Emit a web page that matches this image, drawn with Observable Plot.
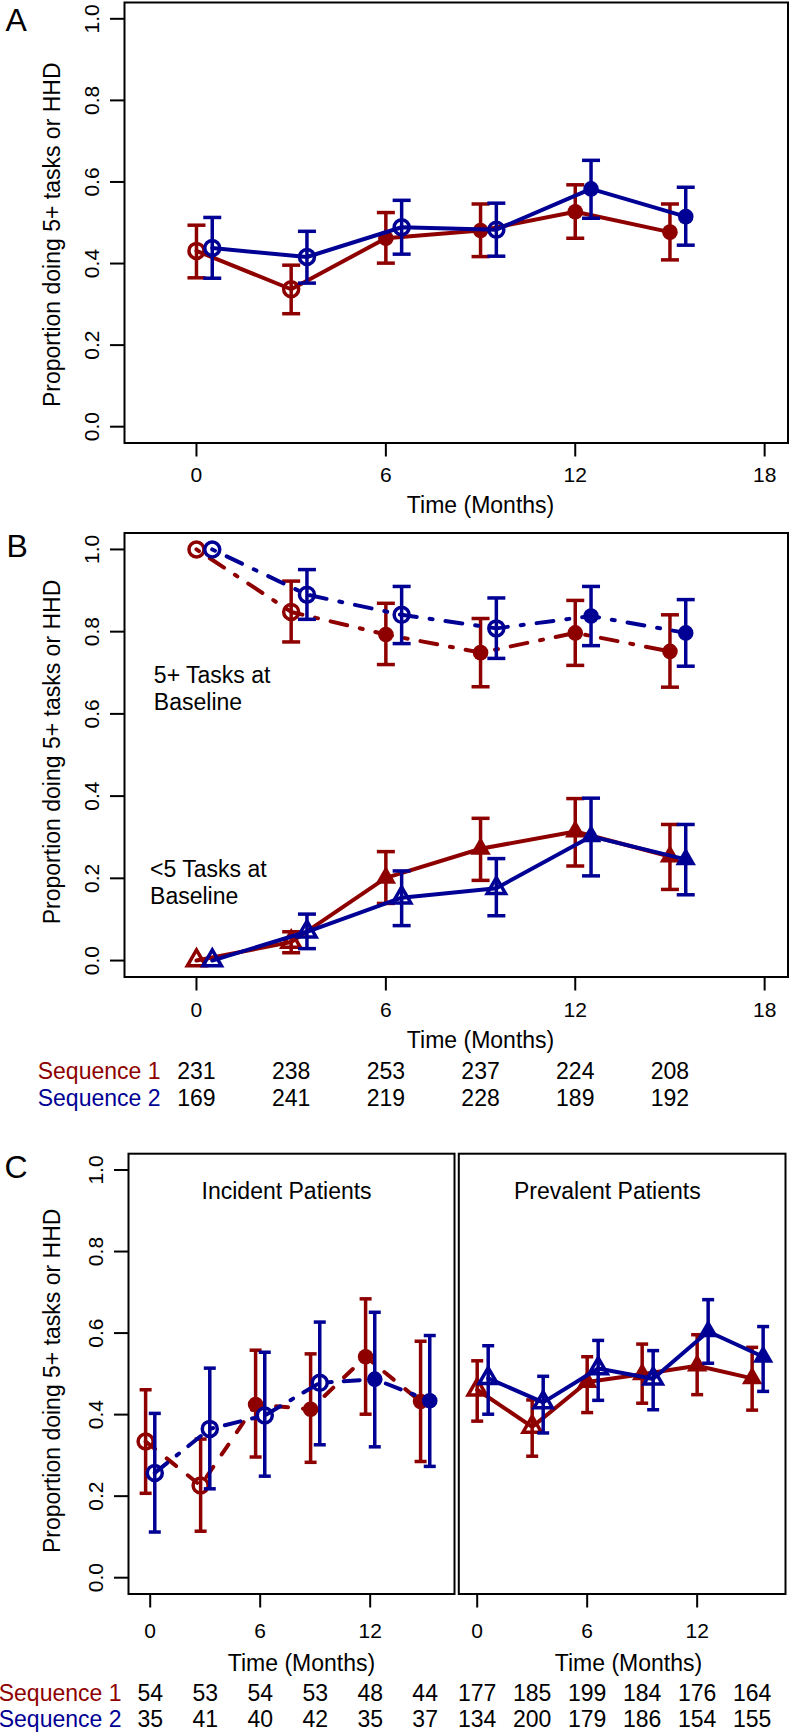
<!DOCTYPE html>
<html>
<head>
<meta charset="utf-8">
<script src="https://cdn.jsdelivr.net/npm/d3@7"></script>
<script src="https://cdn.jsdelivr.net/npm/@observablehq/plot@0.6"></script>
<style>
  body { margin: 0; background: #fff; }
  #chart { position: relative; width: 790px; height: 1733px; background: #fff; overflow: hidden; }
  #chart svg { position: absolute; }
</style>
</head>
<body>
<div id="chart"></div>
<script>
// ---------------- data ----------------
const months = [0, 3, 6, 9, 12, 15];
const seq1Phase = ["pre", "pre", "post", "post", "post", "post"];
const seq2Phase = ["pre", "pre", "pre", "pre", "post", "post"];
const seriesNames = ["Sequence 1", "Sequence 2"];
const yTicks = [0, 0.2, 0.4, 0.6, 0.8, 1.0];
const xTicksAB = [0, 6, 12, 18];
const xTicksC = [0, 6, 12];

// Panel A
const aSeq1 = [0.431, 0.337, 0.462, 0.481, 0.527, 0.477];
const aSeq1Lo = [0.365, 0.277, 0.401, 0.417, 0.462, 0.409];
const aSeq1Hi = [0.494, 0.396, 0.525, 0.546, 0.593, 0.546];
const aSeq2 = [0.438, 0.416, 0.489, 0.483, 0.583, 0.515];
const aSeq2Lo = [0.364, 0.352, 0.423, 0.418, 0.511, 0.445];
const aSeq2Hi = [0.513, 0.479, 0.555, 0.548, 0.653, 0.587];

// Panel B: 5+ tasks at baseline
const bHiSeq1 = [1.0, 0.848, 0.793, 0.749, 0.797, 0.752];
const bHiSeq1Lo = [null, 0.775, 0.720, 0.666, 0.718, 0.665];
const bHiSeq1Hi = [null, 0.923, 0.869, 0.832, 0.876, 0.841];
const bHiSeq2 = [1.0, 0.890, 0.841, 0.808, 0.838, 0.797];
const bHiSeq2Lo = [null, 0.830, 0.771, 0.735, 0.766, 0.716];
const bHiSeq2Hi = [null, 0.951, 0.910, 0.882, 0.910, 0.878];
// Panel B: <5 tasks at baseline
const bLoSeq1 = [0.0, 0.045, 0.201, 0.272, 0.314, 0.253];
const bLoSeq1Lo = [null, 0.019, 0.139, 0.195, 0.230, 0.173];
const bLoSeq1Hi = [null, 0.070, 0.265, 0.346, 0.394, 0.331];
const bLoSeq2 = [0.0, 0.070, 0.153, 0.176, 0.302, 0.246];
const bLoSeq2Lo = [null, 0.029, 0.085, 0.109, 0.206, 0.160];
const bLoSeq2Hi = [null, 0.113, 0.218, 0.248, 0.395, 0.331];
const bCountSeq1 = [231, 238, 253, 237, 224, 208];
const bCountSeq2 = [169, 241, 219, 228, 189, 192];

// Panel C: incident patients
const cIncSeq1 = [0.334, 0.226, 0.425, 0.413, 0.542, 0.432];
const cIncSeq1Lo = [0.207, 0.114, 0.296, 0.283, 0.401, 0.285];
const cIncSeq1Hi = [0.461, 0.340, 0.558, 0.549, 0.684, 0.580];
const cIncSeq2 = [0.257, 0.365, 0.398, 0.478, 0.487, 0.434];
const cIncSeq2Lo = [0.112, 0.218, 0.249, 0.326, 0.321, 0.273];
const cIncSeq2Hi = [0.403, 0.514, 0.553, 0.627, 0.651, 0.594];
const cIncCountSeq1 = [54, 53, 54, 53, 48, 44];
const cIncCountSeq2 = [35, 41, 40, 42, 35, 37];
// Panel C: prevalent patients
const cPrevSeq1 = [0.461, 0.370, 0.480, 0.499, 0.520, 0.489];
const cPrevSeq1Lo = [0.384, 0.298, 0.405, 0.428, 0.449, 0.411];
const cPrevSeq1Hi = [0.532, 0.436, 0.542, 0.573, 0.596, 0.565];
const cPrevSeq2 = [0.489, 0.430, 0.513, 0.488, 0.604, 0.542];
const cPrevSeq2Lo = [0.401, 0.355, 0.435, 0.412, 0.526, 0.457];
const cPrevSeq2Hi = [0.569, 0.494, 0.582, 0.557, 0.682, 0.616];
const cPrevCountSeq1 = [177, 185, 199, 184, 176, 164];
const cPrevCountSeq2 = [134, 200, 179, 186, 154, 155];

// ---------------- styling ----------------
const COLORS = {"Sequence 1": "#8e0000", "Sequence 2": "#000094"};
const FONT = "'Liberation Sans', Arial, Helvetica, sans-serif";
const DOTDASH = "3,13,17,13";
const DASHED = "12,15";
const BLUEDASH = "16,12,3,12";

const capSymbol = {draw(ctx, size) { const r = Math.sqrt(size / Math.PI); ctx.moveTo(-r, 0); ctx.lineTo(r, 0); }};

function series(name, vals, lo, hi, shift, phase) {
  return months.map((m, i) => ({series: name, t: m + shift, v: vals[i], lo: lo[i], hi: hi[i], open: phase[i] === "pre"}));
}
function counts(vals) { return months.map((m, i) => ({t: m, n: String(vals[i])})); }

function seriesMarks(rows, {symbol = "circle", dash = null, capR = 9, openR = 7.5, fillR = 7.8}) {
  const color = COLORS[rows[0].series];
  const bars = rows.filter(d => d.lo != null);
  return [
    Plot.line(rows, {x: "t", y: "v", stroke: color, strokeWidth: 4, strokeDasharray: dash, strokeLinecap: "round", strokeLinejoin: "round"}),
    Plot.ruleX(bars, {x: "t", y1: "lo", y2: "hi", stroke: color, strokeWidth: 3.5}),
    Plot.dot(bars, {x: "t", y: "lo", symbol: capSymbol, r: capR, stroke: color, fill: "none", strokeWidth: 3.5}),
    Plot.dot(bars, {x: "t", y: "hi", symbol: capSymbol, r: capR, stroke: color, fill: "none", strokeWidth: 3.5}),
    Plot.dot(rows.filter(d => d.open), {x: "t", y: "v", symbol, r: openR, stroke: color, fill: "none", strokeWidth: 3.5}),
    Plot.dot(rows.filter(d => !d.open), {x: "t", y: "v", symbol, r: fillR, fill: color, stroke: "none"})
  ];
}

function yAxisMarks(marginLeft, titleShift) {
  return [
    Plot.axisY(yTicks, {tickSize: 14, tickRotate: -90, tickPadding: 12, tickFormat: d => d.toFixed(1), fontSize: 21, strokeWidth: 2, label: null}),
    Plot.text(["Proportion doing 5+ tasks or HHD"], {frameAnchor: "left", rotate: -90, dx: 52 - marginLeft, dy: titleShift, textAnchor: "middle", lineAnchor: "middle", fontSize: 23})
  ];
}

function place(svg, left, top) {
  svg.style.left = left + "px";
  svg.style.top = top + "px";
  document.getElementById("chart").appendChild(svg);
}

function basePlot(opts, marks) {
  return Plot.plot({
    width: opts.width, height: opts.height,
    marginTop: opts.mt, marginRight: opts.mr, marginBottom: opts.mb, marginLeft: opts.ml,
    x: {domain: opts.xDomain},
    y: {domain: [-0.04, 1.04], axis: opts.yAxis === false ? null : undefined},
    style: {fontFamily: FONT, fontSize: "21px", color: "black", background: "transparent", overflow: "visible"},
    marks
  });
}

// ---------------- Panel A ----------------
{
  const s1 = series(seriesNames[0], aSeq1, aSeq1Lo, aSeq1Hi, 0, seq1Phase);
  const s2 = series(seriesNames[1], aSeq2, aSeq2Lo, aSeq2Hi, 0.5, seq2Phase);
  const svg = basePlot({width: 790, height: 520, mt: 2, mr: 2.5, mb: 77.5, ml: 124, xDomain: [-2.28, 18.74]}, [
    ...seriesMarks(s1, {}),
    ...seriesMarks(s2, {}),
    Plot.frame({stroke: "black", strokeWidth: 2}),
    Plot.axisX(xTicksAB, {tickSize: 14, tickPadding: 10, fontSize: 21, strokeWidth: 2, label: null}),
    ...yAxisMarks(124, 12),
    Plot.text([{t: 9, label: "Time (Months)"}], {x: "t", text: "label", frameAnchor: "bottom", lineAnchor: "top", dy: 54, fontSize: 23}),
    Plot.text(["A"], {frameAnchor: "top-left", dx: -119, dy: 6, textAnchor: "start", lineAnchor: "top", fontSize: 32})
  ]);
  place(svg, 0, 0);
}

// ---------------- Panel B ----------------
{
  const u1 = series(seriesNames[0], bHiSeq1, bHiSeq1Lo, bHiSeq1Hi, 0, seq1Phase);
  const u2 = series(seriesNames[1], bHiSeq2, bHiSeq2Lo, bHiSeq2Hi, 0.5, seq2Phase);
  const l1 = series(seriesNames[0], bLoSeq1, bLoSeq1Lo, bLoSeq1Hi, 0, seq1Phase);
  const l2 = series(seriesNames[1], bLoSeq2, bLoSeq2Lo, bLoSeq2Hi, 0.5, seq2Phase);
  const tri = {symbol: "triangle", openR: 6.8, fillR: 7.6};
  const svg = basePlot({width: 790, height: 600, mt: 12.5, mr: 2.5, mb: 143.5, ml: 124, xDomain: [-2.28, 18.74]}, [
    ...seriesMarks(u1, {dash: DOTDASH}),
    ...seriesMarks(u2, {dash: DOTDASH}),
    ...seriesMarks(l1, tri),
    ...seriesMarks(l2, tri),
    Plot.text([{t: -1.35, v: 0.664, label: "5+ Tasks at\nBaseline"}, {t: -1.47, v: 0.191, label: "<5 Tasks at\nBaseline"}],
      {x: "t", y: "v", text: "label", textAnchor: "start", lineAnchor: "middle", lineHeight: 1.17, fontSize: 23}),
    Plot.frame({stroke: "black", strokeWidth: 2}),
    Plot.axisX(xTicksAB, {tickSize: 14, tickPadding: 11, fontSize: 21, strokeWidth: 2, label: null}),
    ...yAxisMarks(124, -3),
    Plot.text([{t: 9, label: "Time (Months)"}], {x: "t", text: "label", frameAnchor: "bottom", lineAnchor: "top", dy: 55, fontSize: 23}),
    Plot.text(["B"], {frameAnchor: "top-left", dx: -118, dy: 1, textAnchor: "start", lineAnchor: "top", fontSize: 32}),
    Plot.text([seriesNames[0]], {frameAnchor: "bottom-left", dx: 36, dy: 94.5, textAnchor: "end", lineAnchor: "middle", fontSize: 23, fill: COLORS["Sequence 1"]}),
    Plot.text([seriesNames[1]], {frameAnchor: "bottom-left", dx: 36, dy: 121.5, textAnchor: "end", lineAnchor: "middle", fontSize: 23, fill: COLORS["Sequence 2"]}),
    Plot.text(counts(bCountSeq1), {x: "t", text: "n", frameAnchor: "bottom", dy: 94.5, lineAnchor: "middle", fontSize: 23}),
    Plot.text(counts(bCountSeq2), {x: "t", text: "n", frameAnchor: "bottom", dy: 121.5, lineAnchor: "middle", fontSize: 23})
  ]);
  place(svg, 0, 520);
}

// ---------------- Panel C ----------------
{
  const i1 = series(seriesNames[0], cIncSeq1, cIncSeq1Lo, cIncSeq1Hi, -0.25, seq1Phase);
  const i2 = series(seriesNames[1], cIncSeq2, cIncSeq2Lo, cIncSeq2Hi, 0.25, seq2Phase);
  const left = basePlot({width: 456, height: 613, mt: 33.2, mr: 2, mb: 139.5, ml: 128, xDomain: [-1.184, 16.6]}, [
    ...seriesMarks(i1, {dash: DASHED, capR: 6}),
    ...seriesMarks(i2, {dash: BLUEDASH, capR: 6}),
    Plot.text([{t: 7.44, v: 0.948, label: "Incident Patients"}], {x: "t", y: "v", text: "label", fontSize: 23}),
    Plot.frame({stroke: "black", strokeWidth: 2}),
    Plot.axisX(xTicksC, {tickSize: 14, tickPadding: 15, fontSize: 21, strokeWidth: 2, label: null}),
    ...yAxisMarks(128, 7),
    Plot.text([{t: 8.25, label: "Time (Months)"}], {x: "t", text: "label", frameAnchor: "bottom", lineAnchor: "top", dy: 61, fontSize: 23}),
    Plot.text(["C"], {frameAnchor: "top-left", dx: -124, dy: 2, textAnchor: "start", lineAnchor: "top", fontSize: 32}),
    Plot.text([seriesNames[0]], {frameAnchor: "bottom-left", dx: -7, dy: 100, textAnchor: "end", lineAnchor: "middle", fontSize: 23, fill: COLORS["Sequence 1"]}),
    Plot.text([seriesNames[1]], {frameAnchor: "bottom-left", dx: -7, dy: 126, textAnchor: "end", lineAnchor: "middle", fontSize: 23, fill: COLORS["Sequence 2"]}),
    Plot.text(counts(cIncCountSeq1), {x: "t", text: "n", frameAnchor: "bottom", dy: 100, lineAnchor: "middle", fontSize: 23}),
    Plot.text(counts(cIncCountSeq2), {x: "t", text: "n", frameAnchor: "bottom", dy: 126, lineAnchor: "middle", fontSize: 23})
  ]);
  place(left, 0, 1120);

  const p1 = series(seriesNames[0], cPrevSeq1, cPrevSeq1Lo, cPrevSeq1Hi, 0, seq1Phase);
  const p2 = series(seriesNames[1], cPrevSeq2, cPrevSeq2Lo, cPrevSeq2Hi, 0.6, seq2Phase);
  const tri = {symbol: "triangle", openR: 6.8, fillR: 7.6, capR: 6};
  const right = basePlot({width: 334, height: 613, mt: 33.2, mr: 5, mb: 139.5, ml: 2.3, xDomain: [-1.004, 16.82], yAxis: false}, [
    ...seriesMarks(p1, tri),
    ...seriesMarks(p2, tri),
    Plot.text([{t: 7.1, v: 0.948, label: "Prevalent Patients"}], {x: "t", y: "v", text: "label", fontSize: 23}),
    Plot.frame({stroke: "black", strokeWidth: 2}),
    Plot.axisX(xTicksC, {tickSize: 14, tickPadding: 15, fontSize: 21, strokeWidth: 2, label: null}),
    Plot.text([{t: 8.25, label: "Time (Months)"}], {x: "t", text: "label", frameAnchor: "bottom", lineAnchor: "top", dy: 61, fontSize: 23}),
    Plot.text(counts(cPrevCountSeq1), {x: "t", text: "n", frameAnchor: "bottom", dy: 100, lineAnchor: "middle", fontSize: 23}),
    Plot.text(counts(cPrevCountSeq2), {x: "t", text: "n", frameAnchor: "bottom", dy: 126, lineAnchor: "middle", fontSize: 23})
  ]);
  place(right, 456, 1120);
}
</script>
</body>
</html>
